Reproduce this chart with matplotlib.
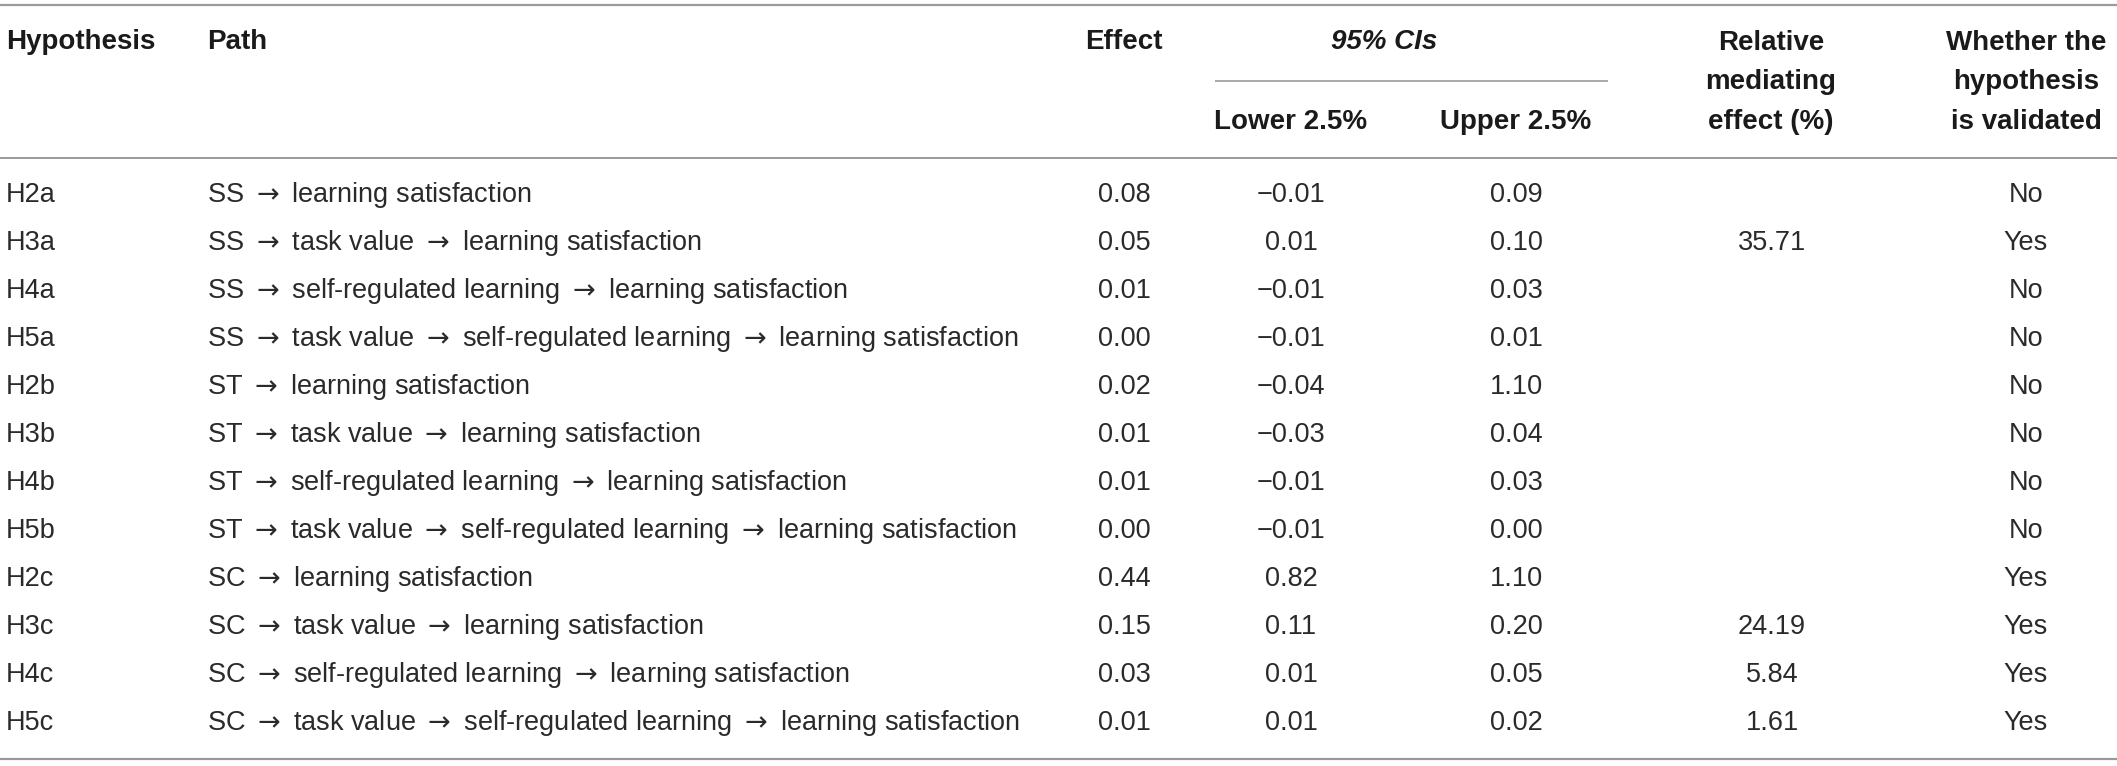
import matplotlib
matplotlib.use("Agg")
import matplotlib.pyplot as plt

plt.rcParams["mathtext.fontset"] = "dejavusans"

hypotheses = ["H2a", "H3a", "H4a", "H5a", "H2b", "H3b", "H4b", "H5b",
              "H2c", "H3c", "H4c", "H5c"]
paths = [
    "SS → learning satisfaction",
    "SS → task value → learning satisfaction",
    "SS → self-regulated learning → learning satisfaction",
    "SS → task value → self-regulated learning → learning satisfaction",
    "ST → learning satisfaction",
    "ST → task value → learning satisfaction",
    "ST → self-regulated learning → learning satisfaction",
    "ST → task value → self-regulated learning → learning satisfaction",
    "SC → learning satisfaction",
    "SC → task value → learning satisfaction",
    "SC → self-regulated learning → learning satisfaction",
    "SC → task value → self-regulated learning → learning satisfaction",
]
effect = ["0.08", "0.05", "0.01", "0.00", "0.02", "0.01", "0.01", "0.00",
          "0.44", "0.15", "0.03", "0.01"]
lower = ["−0.01", "0.01", "−0.01", "−0.01", "−0.04", "−0.03", "−0.01", "−0.01",
         "0.82", "0.11", "0.01", "0.01"]
upper = ["0.09", "0.10", "0.03", "0.01", "1.10", "0.04", "0.03", "0.00",
         "1.10", "0.20", "0.05", "0.02"]
relative = ["", "35.71", "", "", "", "", "", "", "", "24.19", "5.84", "1.61"]
validated = ["No", "Yes", "No", "No", "No", "No", "No", "No",
             "Yes", "Yes", "Yes", "Yes"]

W, H = 2117, 766
fig = plt.figure(figsize=(W / 100, H / 100), dpi=100)
ax = fig.add_axes([0, 0, 1, 1])
ax.set_xlim(0, W)
ax.set_ylim(H, 0)
ax.axis("off")

BODY = dict(family=["Liberation Sans", "DejaVu Sans"], fontsize=19.5,
            color="#2a2a2a", va="center")
HEAD = dict(family=["Liberation Sans", "DejaVu Sans"], fontsize=20,
            color="#1a1a1a", va="center", fontweight="bold")

line_col = "#9a9a9a"
ax.plot([0, W], [5, 5], color=line_col, lw=1.6, solid_capstyle="butt")
ax.plot([0, W], [158, 158], color=line_col, lw=1.4, solid_capstyle="butt")
ax.plot([1215, 1608], [81, 81], color=line_col, lw=1.2, solid_capstyle="butt")
ax.plot([0, W], [759, 759], color=line_col, lw=1.6, solid_capstyle="butt")

# header
ax.text(6, 42, "Hypothesis", ha="left", **HEAD)
ax.text(207, 42, "Path", ha="left", **HEAD)
ax.text(1124, 42, "Effect", ha="center", **HEAD)
ax.text(1384, 42, "95% CIs", ha="center", style="italic", **HEAD)
ax.text(1291, 122, "Lower 2.5%", ha="center", **HEAD)
ax.text(1516, 122, "Upper 2.5%", ha="center", **HEAD)
for txt, y in zip(["Relative", "mediating", "effect (%)"], [43, 82, 122]):
    ax.text(1771, y, txt, ha="center", **HEAD)
for txt, y in zip(["Whether the", "hypothesis", "is validated"], [43, 82, 122]):
    ax.text(2026, y, txt, ha="center", **HEAD)

y0, dy = 195, 48
for i in range(len(hypotheses)):
    y = y0 + i * dy
    ax.text(6, y, hypotheses[i], ha="left", **BODY)
    ax.text(207, y, paths[i].replace("→", r"$\rightarrow$"), ha="left", **BODY)
    ax.text(1124, y, effect[i], ha="center", **BODY)
    ax.text(1291, y, lower[i], ha="center", **BODY)
    ax.text(1516, y, upper[i], ha="center", **BODY)
    if relative[i]:
        ax.text(1772, y, relative[i], ha="center", **BODY)
    ax.text(2026, y, validated[i], ha="center", **BODY)

fig.savefig("out.png", dpi=100, facecolor="white")
